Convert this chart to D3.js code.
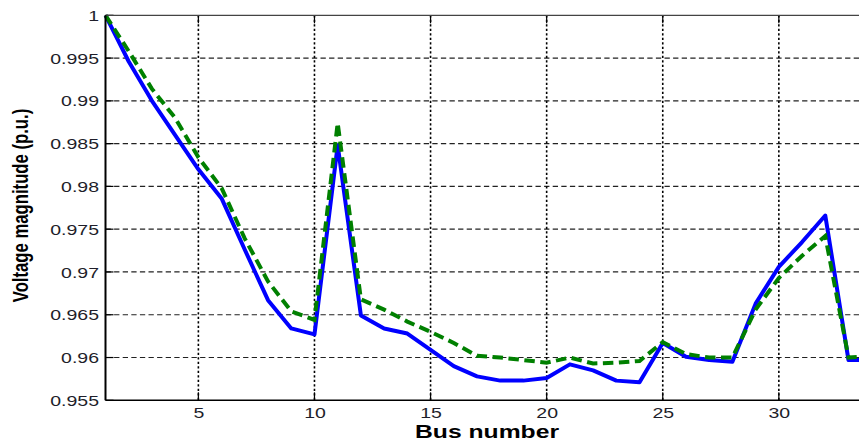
<!DOCTYPE html>
<html><head><meta charset="utf-8">
<script src="https://cdn.jsdelivr.net/npm/d3@7/dist/d3.min.js"></script>
<style>body{margin:0;background:#fff}svg{display:block}</style>
</head><body><svg id="c" width="859" height="444"></svg>
<script>
// ---- data ----
const buses = [1,2,3,4,5,6,7,8,9,10,11,12,13,14,15,16,17,18,19,20,21,22,23,24,25,26,27,28,29,30,31,32,33,34];
const vBlue = [1.0000,0.9946,0.9900,0.9860,0.9820,0.9786,0.9726,0.9667,0.9634,0.9627,
               0.9848,0.9649,0.9634,0.9628,0.9609,0.9590,0.9578,0.9573,0.9573,0.9576,
               0.9592,0.9585,0.9573,0.9571,0.9617,0.9601,0.9597,0.9595,0.9663,0.9706,
               0.9735,0.9766,0.9597,0.9597];
const vGreen = [1.0000,0.9958,0.9914,0.9880,0.9834,0.9798,0.9739,0.9689,0.9654,0.9644,
                0.9874,0.9668,0.9656,0.9642,0.9630,0.9617,0.9602,0.9600,0.9597,0.9594,
                0.9600,0.9593,0.9594,0.9596,0.9618,0.9604,0.9600,0.9600,0.9656,0.9693,
                0.9719,0.9742,0.9600,0.9602];
const xTicks = [5,10,15,20,25,30];
const yTicks = [0.955,0.96,0.965,0.97,0.975,0.98,0.985,0.99,0.995,1];
const yTickLabels = ["0.955","0.96","0.965","0.97","0.975","0.98","0.985","0.99","0.995","1"];
const xLabel = "Bus number";
const yLabel = "Voltage magnitude (p.u.)";

// ---- layout ----
const W = 859, H = 444;
const L = 105.5, R = 848.5, T = 15.3, B = 400.3;
const SX = 1.3; // horizontal stretch of the reference raster
const FONT = "'Liberation Sans', Arial, Helvetica, sans-serif";

const x = d3.scaleLinear().domain([1, 33]).range([L, R]);
const y = d3.scaleLinear().domain([0.955, 1]).range([B, T]);

const svg = d3.select("#c");
svg.append("rect").attr("width", W).attr("height", H).attr("fill", "#fff");

// grid
const grid = svg.append("g");
grid.selectAll("line.h").data(yTicks.filter(d => d > 0.955 && d < 1)).join("line")
  .attr("class", "h")
  .attr("x1", L).attr("x2", W)
  .attr("y1", d => y(d)).attr("y2", d => y(d))
  .attr("stroke", "#222").attr("stroke-width", 1.2).attr("stroke-dasharray", "5.3,3.3");
grid.selectAll("line.v").data(xTicks).join("line")
  .attr("class", "v")
  .attr("x1", d => x(d)).attr("x2", d => x(d))
  .attr("y1", T).attr("y2", B)
  .attr("stroke", "#000").attr("stroke-width", 1.6).attr("stroke-dasharray", "2.2,2.3");

// data lines
const line = d3.line().x((d, i) => x(buses[i])).y(d => y(d));
svg.append("path").datum(vBlue)
  .attr("d", line).attr("fill", "none")
  .attr("stroke", "#0000ff").attr("stroke-width", 4).attr("stroke-linejoin", "round");
svg.append("path").datum(vGreen)
  .attr("d", line).attr("fill", "none")
  .attr("stroke", "#008000").attr("stroke-width", 4).attr("stroke-dasharray", "10.5,5.5");

// axes
const yAxis = svg.append("g").attr("transform", `translate(${L},0)`)
  .call(d3.axisLeft(y).tickValues(yTicks).tickFormat((d, i) => yTickLabels[i]).tickSize(0).tickPadding(0));
yAxis.select(".domain").remove();
yAxis.selectAll("text")
  .attr("x", 0).attr("dy", "0.34em")
  .attr("transform", `translate(-6.5,0) scale(${SX},1)`)
  .attr("fill", "#1e1e2a").style("font-family", FONT).style("font-size", "15px");

const xAxis = svg.append("g").attr("transform", `translate(0,${B})`)
  .call(d3.axisBottom(x).tickValues(xTicks).tickSize(0).tickPadding(0));
xAxis.select(".domain").remove();
xAxis.selectAll("text")
  .attr("y", 0).attr("dy", 0)
  .attr("transform", `translate(0,17.7) scale(${SX},1)`)
  .attr("fill", "#1e1e2a").style("font-family", FONT).style("font-size", "15px");

// inside ticks
const tk = svg.append("g").attr("stroke", "#000").attr("stroke-width", 1.2);
tk.selectAll("line.yt").data(yTicks).join("line").attr("class", "yt")
  .attr("x1", L).attr("x2", L + 8).attr("y1", d => y(d)).attr("y2", d => y(d));
tk.selectAll("line.xb").data(xTicks).join("line").attr("class", "xb")
  .attr("x1", d => x(d)).attr("x2", d => x(d)).attr("y1", B).attr("y2", B - 8);
tk.selectAll("line.xt").data(xTicks).join("line").attr("class", "xt")
  .attr("x1", d => x(d)).attr("x2", d => x(d)).attr("y1", T).attr("y2", T + 8);

// box lines
svg.append("line").attr("x1", L).attr("x2", W).attr("y1", T).attr("y2", T)
  .attr("stroke", "#444").attr("stroke-width", 1.2);
svg.append("line").attr("x1", L).attr("x2", W).attr("y1", B).attr("y2", B)
  .attr("stroke", "#000").attr("stroke-width", 1.5);
svg.append("line").attr("x1", L).attr("x2", L).attr("y1", T).attr("y2", B)
  .attr("stroke", "#000").attr("stroke-width", 2);

// axis labels
svg.append("text").text(xLabel)
  .attr("transform", `translate(487,437.6) scale(${SX},1)`)
  .attr("text-anchor", "middle")
  .style("font-family", FONT).style("font-size", "19px").style("font-weight", "bold")
  .attr("fill", "#000");
svg.append("text").text(yLabel)
  .attr("transform", `translate(27.5,205.5) scale(${SX},1) rotate(-90)`)
  .attr("text-anchor", "middle")
  .style("font-family", FONT).style("font-size", "16.7px").style("font-weight", "bold")
  .attr("fill", "#000");
</script>
</body></html>
